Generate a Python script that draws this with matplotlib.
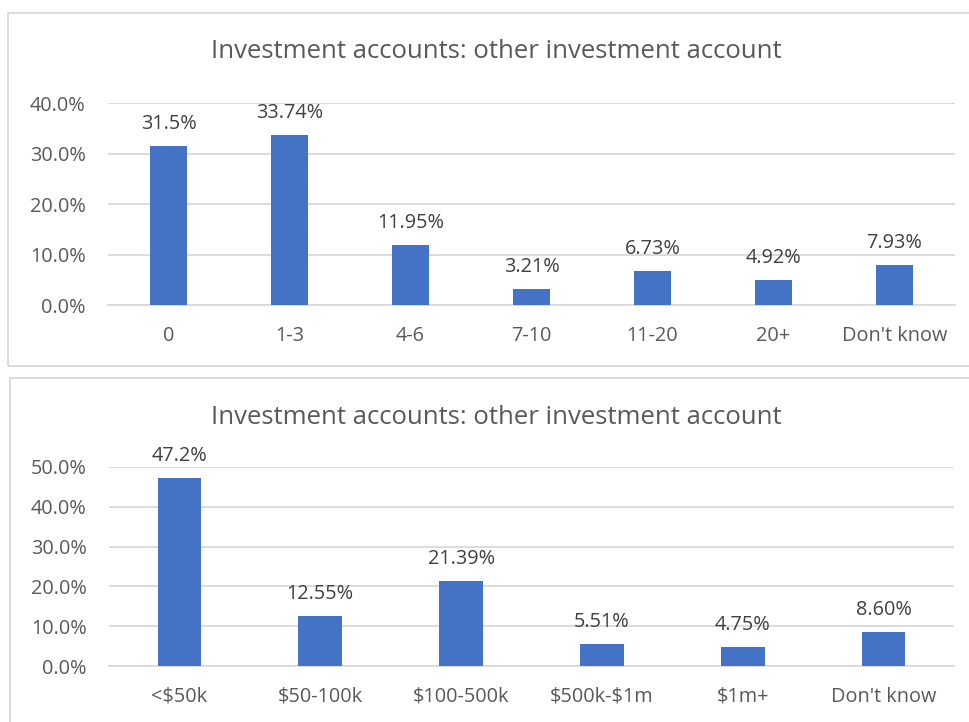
import matplotlib
matplotlib.use("Agg")
import matplotlib.pyplot as plt
from matplotlib.patches import Rectangle
from matplotlib.ticker import PercentFormatter

plt.rcParams['font.family'] = ['Open Sans', 'DejaVu Sans']
plt.rcParams['text.parse_math'] = False

title = "Investment accounts: other investment account"

# top chart: number of accounts
countCats = ["0", "1-3", "4-6", "7-10", "11-20", "20+", "Don't know"]
countVals = [31.5, 33.74, 11.95, 3.21, 6.73, 4.92, 7.93]
countLabels = ["31.5%", "33.74%", "11.95%", "3.21%", "6.73%", "4.92%", "7.93%"]

# bottom chart: value of accounts
valueCats = ["<$50k", "$50-100k", "$100-500k", "$500k-$1m", "$1m+", "Don't know"]
valueVals = [47.2, 12.55, 21.39, 5.51, 4.75, 8.60]
valueLabels = ["47.2%", "12.55%", "21.39%", "5.51%", "4.75%", "8.60%"]

W, H = 970, 722
barColor = "#4472C4"
gridColor = "#d9d9d9"
tickColor = "#595959"
labelColor = "#404040"
fs = 14.3

fig = plt.figure(figsize=(W/100, H/100), dpi=100)

def px(x, y, w, h):
    # pixel box (top-left origin) -> figure fraction
    return [x/W, 1 - (y+h)/H, w/W, h/H]

def bar_chart(box, cats, vals, labels, ymax):
    ax = fig.add_axes(px(*box))
    xs = range(len(cats))
    ax.bar(xs, vals, width=0.31, color=barColor, zorder=3)
    for x, v, l in zip(xs, vals, labels):
        ax.annotate(l, (x, v), xytext=(0, 12), textcoords='offset pixels',
                    ha='center', va='bottom', fontsize=fs, color=labelColor)
    ax.set_xlim(-0.5, len(cats) - 0.5)
    ax.set_ylim(0, ymax)
    ax.set_yticks([i*10 for i in range(int(ymax/10)+1)])
    ax.yaxis.set_major_formatter(PercentFormatter(decimals=1))
    ax.set_xticks(list(xs))
    ax.set_xticklabels(cats)
    ax.grid(axis='y', color=gridColor, linewidth=1.3, zorder=0)
    for s in ['top', 'right', 'left']:
        ax.spines[s].set_visible(False)
    ax.spines['bottom'].set_color(gridColor)
    ax.spines['bottom'].set_linewidth(1.3)
    ax.tick_params(length=0, labelsize=fs, colors=tickColor)
    ax.tick_params(axis='x', pad=15)
    ax.tick_params(axis='y', pad=16)
    return ax

bar_chart((108, 103, 847, 202), countCats, countVals, countLabels, 40)
bar_chart((109, 467, 845, 199), valueCats, valueVals, valueLabels, 50)

fig.text(496/W, 1 - 52/H, title, ha='center', va='center', fontsize=18.5, color=tickColor)
fig.text(496/W, 1 - 417/H, title, ha='center', va='center', fontsize=18.5, color=tickColor)

# chart frames
fig.add_artist(Rectangle((8/W, 1 - 366/H), 1.0, (366-13)/H, transform=fig.transFigure,
                         fill=False, edgecolor=gridColor, linewidth=1.3))
fig.add_artist(Rectangle((10/W, -0.1), 1.0, 0.1 + (722-378)/H, transform=fig.transFigure,
                         fill=False, edgecolor=gridColor, linewidth=1.3))

plt.savefig("out.png", dpi=100)
